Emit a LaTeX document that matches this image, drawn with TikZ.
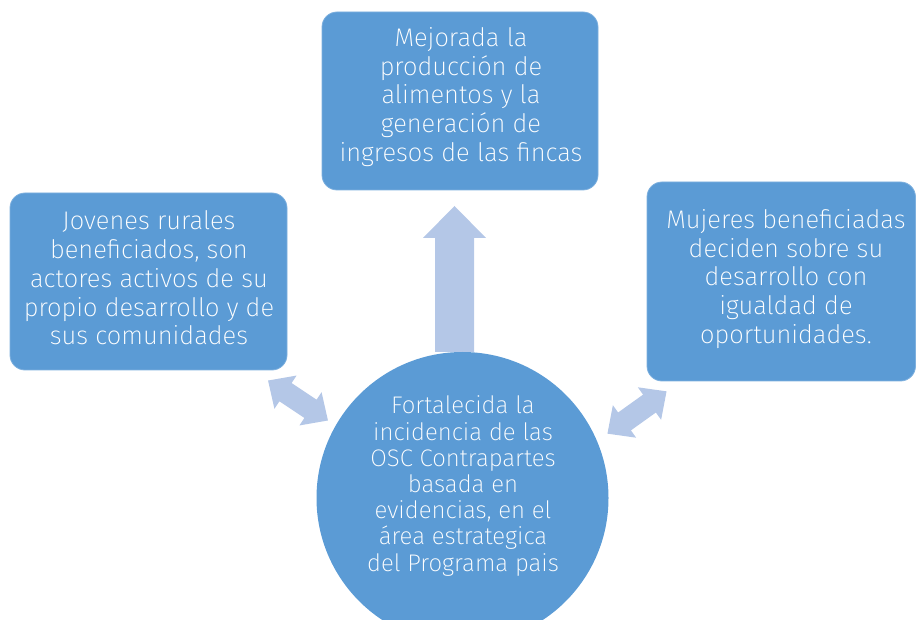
\documentclass[tikz,border=0pt]{standalone}
\usepackage{fontspec}
\setmainfont{Fira Sans}[UprightFont={* ExtraLight}]
\definecolor{boxblue}{HTML}{5B9BD5}
\definecolor{boxedge}{HTML}{7EB0DE}
\definecolor{arrowblue}{HTML}{B4C7E7}
\tikzset{
  goalbox/.style={fill=boxblue, draw=boxedge, line width=0.8pt, rounded corners=15pt},
  boxtext/.style={text=white, align=center, font=\fontsize{25.5}{28.8}\selectfont},
  circtext/.style={text=white, align=center, font=\fontsize{24}{26.2}\selectfont},
  arrowshape/.style={fill=arrowblue, draw=none}
}
\newcommand{\dblarrow}[4]{% center x, center y, angle, length
  \begin{scope}[shift={(#1,#2)}, rotate=#3]
    \fill[arrowshape] (-#4/2,0) -- (-#4/2+21,20) -- (-#4/2+21,11) -- (#4/2-21,11) -- (#4/2-21,20) -- (#4/2,0) -- (#4/2-21,-20) -- (#4/2-21,-11) -- (-#4/2+21,-11) -- (-#4/2+21,-20) -- cycle;
  \end{scope}}
\begin{document}
\begin{tikzpicture}[x=1pt,y=-1pt]
\useasboundingbox (0,0) rectangle (916,620);
\clip (0,0) rectangle (916,620);
% boxes
\draw[goalbox] (322,12) rectangle (598,190);
\node[boxtext] (top) at (461,97) {Mejorada la\\producción de\\alimentos y la\\generación de\\ingresos de las fincas};
\draw[goalbox] (10,193) rectangle (287,370);
\node[boxtext] (left) at (149,278) {Jovenes rurales\\beneficiados, son\\actores activos de su\\propio desarrollo y de\\sus comunidades};
\draw[goalbox] (647,182) rectangle (915.5,381);
\node[boxtext] (right) at (786,279) {Mujeres beneficiadas\\deciden sobre su\\desarrollo con\\igualdad de\\oportunidades.};
% up arrow
\fill[arrowshape] (435,352) -- (435,238) -- (423,238) -- (454.5,206) -- (486,238) -- (474,238) -- (474,352) -- cycle;
% double arrows
\dblarrow{298}{400.5}{-33.7}{72}
\dblarrow{637}{412.5}{35.6}{72.7}
% circle
\fill[boxblue] (462.5,498) circle (146);
\node[circtext] (center) at (463,486) {Fortalecida la\\incidencia de las\\OSC Contrapartes\\basada en\\evidencias, en el\\área estrategica\\del Programa pais};
\end{tikzpicture}
\end{document}
